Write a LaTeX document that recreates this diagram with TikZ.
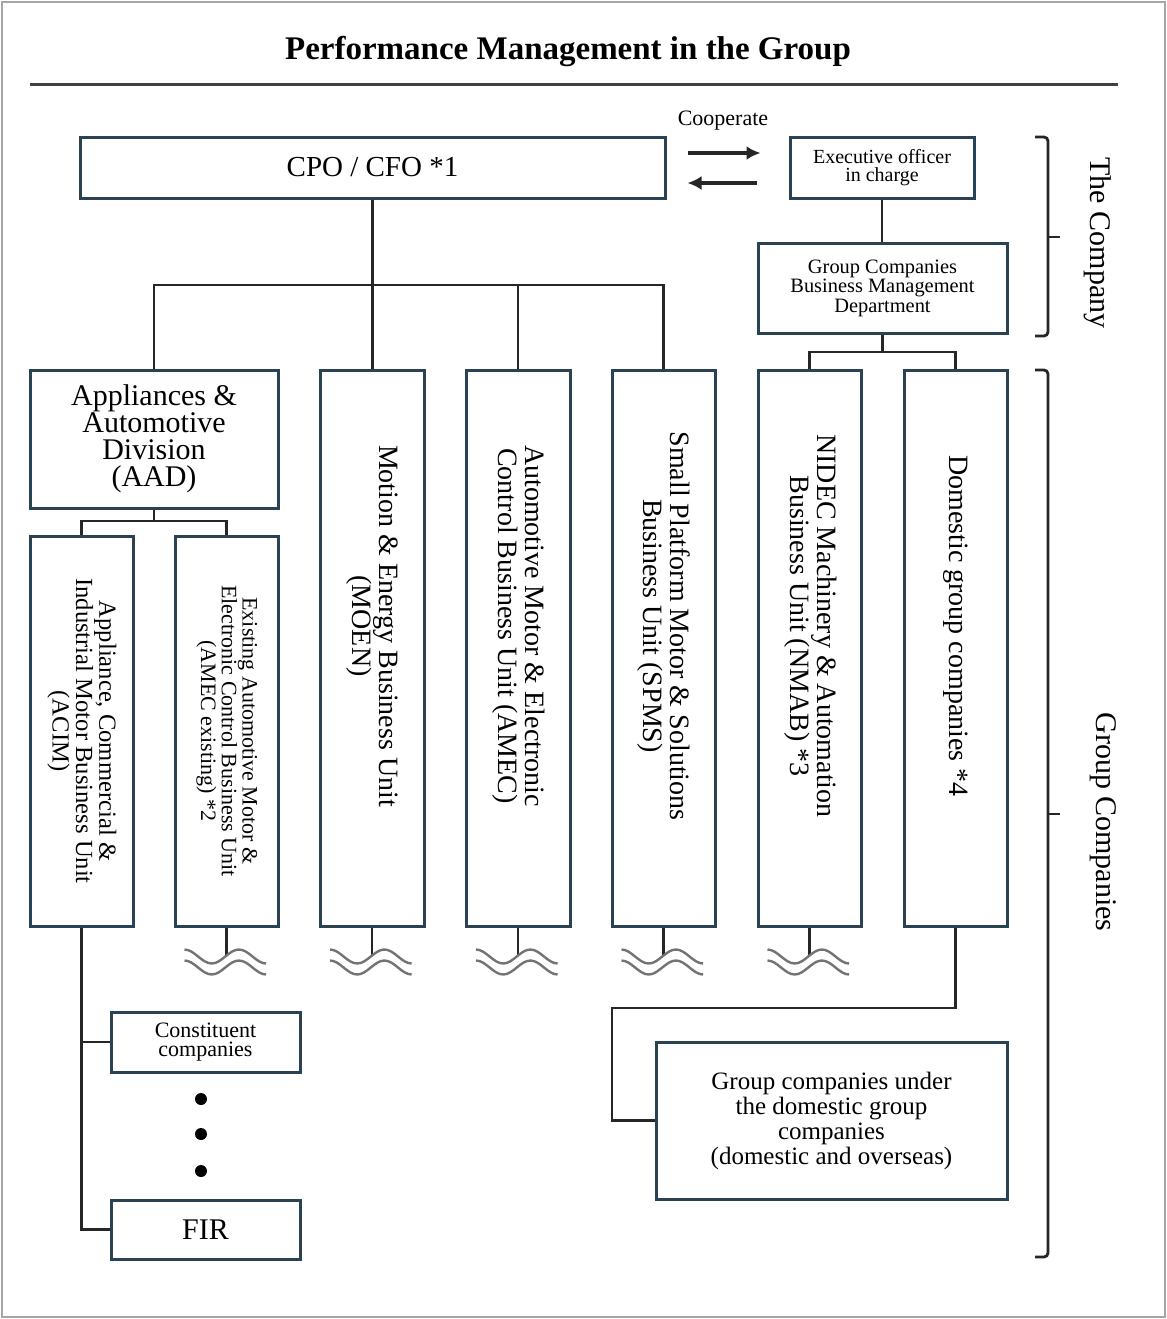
\documentclass[tikz,border=0pt]{standalone}
\usepackage{fontspec}
\setmainfont{Liberation Serif}
\usetikzlibrary{arrows.meta}
\definecolor{boxline}{HTML}{2B4252}
\newcommand{\fsz}[2]{\fontsize{#1}{#2}\selectfont}
% rotated label: size, leading, extra room at the foot, lines
\newcommand{\vtext}[4]{\rotatebox{-90}{\fsz{#1}{#2}\begin{tabular}{@{}c@{}}#4\end{tabular}\hspace{#3}}}

\begin{document}
\begin{tikzpicture}[x=0.5pt,y=-0.5pt,
  box/.style={draw=boxline, line width=1.5pt, fill=white, inner sep=0pt, align=center},
  link/.style={line width=1.4pt, black!85},
  coop/.style={line width=1.6pt, black!85, -{Latex[length=7pt,width=7pt]}},
  wave/.style={line width=1.2pt, black!55},
  bracket/.style={line width=1.4pt, black!85, rounded corners=2pt}]
\useasboundingbox (0,0) rectangle (1167,1319);
\draw[gray!70, line width=1.2pt] (2,2) rectangle (1165,1317);

\node[font=\bfseries\fsz{16.5}{18}] (title) at (568,52) {Performance Management in the Group};
\draw[line width=1.5pt, black!75] (30,84) -- (1118,84);

% the company
\node[box, minimum width=292.5pt, minimum height=30.5pt, font=\fsz{14.5}{16}] (cpo) at (372.5,167.5) {CPO / CFO *1};
\node[box, minimum width=92pt, minimum height=30.5pt, font=\fsz{10}{9}] (exec) at (882,167.5) {Executive officer\\in charge};
\node[box, minimum width=124.5pt, minimum height=45pt, font=\fsz{10.2}{9.75}] (gcbmd) at (882.5,288) {Group Companies\\Business Management\\Department};
\node[font=\fsz{11}{12}] (coop) at (723,121) {Cooperate};

% business units
\node[box, minimum width=124pt, minimum height=69pt, font=\fsz{15}{13.5}] (aad) at (154,439) {Appliances \&\\Automotive\\Division\\(AAD)};
\node[box, minimum width=51.5pt, minimum height=195pt] (acim) at (81.5,731) {\vtext{12.3}{10.5}{0pt}{Appliance, Commercial \&\\Industrial Motor Business Unit\\(ACIM)}};
\node[box, minimum width=51.5pt, minimum height=195pt] (amecx) at (226.5,731) {\vtext{11}{9}{0pt}{Existing Automotive Motor \&\\Electronic Control Business Unit\\(AMEC existing) *2}};
\node[box, minimum width=52pt, minimum height=278pt] (moen) at (372,648) {\vtext{14}{12.5}{22pt}{Motion \& Energy Business Unit\\(MOEN)}};
\node[box, minimum width=52pt, minimum height=278pt] (amec) at (518,648) {\vtext{14}{12.5}{22pt}{Automotive Motor \& Electronic\\Control Business Unit (AMEC)}};
\node[box, minimum width=51.5pt, minimum height=278pt] (spms) at (663.5,648) {\vtext{14}{12.5}{22pt}{Small Platform Motor \& Solutions\\Business Unit (SPMS)}};
\node[box, minimum width=51.5pt, minimum height=278pt] (nmab) at (809.5,648) {\vtext{14}{12.5}{22pt}{NIDEC Machinery \& Automation\\Business Unit (NMAB) *3}};
\node[box, minimum width=51.5pt, minimum height=278pt] (dom) at (955.5,648) {\vtext{14}{12.5}{22pt}{Domestic group companies *4}};

% lower level
\node[box, minimum width=94.5pt, minimum height=30pt, font=\fsz{11}{9.5}] (const) at (205.5,1042) {Constituent\\companies};
\node[box, minimum width=94.5pt, minimum height=29.5pt, font=\fsz{15}{16}] (fir) at (205.5,1229.5) {FIR};
\node[box, minimum width=175.5pt, minimum height=78.5pt, font=\fsz{12.5}{12.5}] (gcud) at (831.5,1120.5) {Group companies under\\the domestic group\\companies\\(domestic and overseas)};
\foreach \yy in {1099,1134,1171}
  \fill (201,\yy) circle (3pt);

% connectors
\coordinate (topbar) at (0,285);
\coordinate (gbar) at (0,352);
\coordinate (abar) at (0,521);
\coordinate (dbend) at (612,1008);
\draw[link] (cpo.south) -- (cpo.south |- moen.north);
\draw[link] (aad.north) -- (aad.north |- topbar) -- (spms.north |- topbar) -- (spms.north);
\draw[link] (amec.north) -- (amec.north |- topbar);
\draw[link] (exec.south) -- (exec.south |- gcbmd.north);
\draw[link] (gcbmd.south) -- (gcbmd.south |- gbar);
\draw[link] (nmab.north) -- (nmab.north |- gbar) -- (dom.north |- gbar) -- (dom.north);
\draw[link] (aad.south) -- (aad.south |- abar);
\draw[link] (acim.north) -- (acim.north |- abar) -- (amecx.north |- abar) -- (amecx.north);
\draw[link] (acim.south) |- (fir.west);
\draw[link] (acim.south |- const.west) -- (const.west);
\draw[link] (dom.south) |- (dbend) |- (gcud.west);
\draw[coop] ([xshift=10.5pt,yshift=7.25pt]cpo.east) -- ([xshift=-14pt,yshift=7.25pt]exec.west);
\draw[coop] ([xshift=-16pt,yshift=-7.75pt]exec.west) -- ([xshift=10.5pt,yshift=-7.75pt]cpo.east);

% cut-off marks
\foreach \u in {amecx,moen,amec,spms,nmab} {
  \draw[link] (\u.south) -- ++(0,-14pt);
  \draw[wave] ([xshift=-21pt,yshift=-11pt]\u.south) cos ++(6.8pt,-3.5pt) sin ++(6.8pt,-3.5pt) cos ++(6.8pt,3.5pt) sin ++(6.8pt,3.5pt) cos ++(6.8pt,-3.5pt) sin ++(6.8pt,-3.5pt);
  \draw[wave] ([xshift=-21pt,yshift=-16.5pt]\u.south) cos ++(6.8pt,-3.5pt) sin ++(6.8pt,-3.5pt) cos ++(6.8pt,3.5pt) sin ++(6.8pt,3.5pt) cos ++(6.8pt,-3.5pt) sin ++(6.8pt,-3.5pt);
}

% brackets
\draw[bracket] (1035,137) -- (1048,137) -- (1048,336) -- (1035,336);
\draw[bracket] (1048,237) -- (1060,237);
\node[rotate=-90, font=\fsz{15}{16}] (thecompany) at (1098,243) {The Company};
\draw[bracket] (1035,370) -- (1048,370) -- (1048,1257) -- (1035,1257);
\draw[bracket] (1048,814) -- (1060,814);
\node[rotate=-90, font=\fsz{15}{16}] (groupco) at (1103,822) {Group Companies};
\end{tikzpicture}
\end{document}
